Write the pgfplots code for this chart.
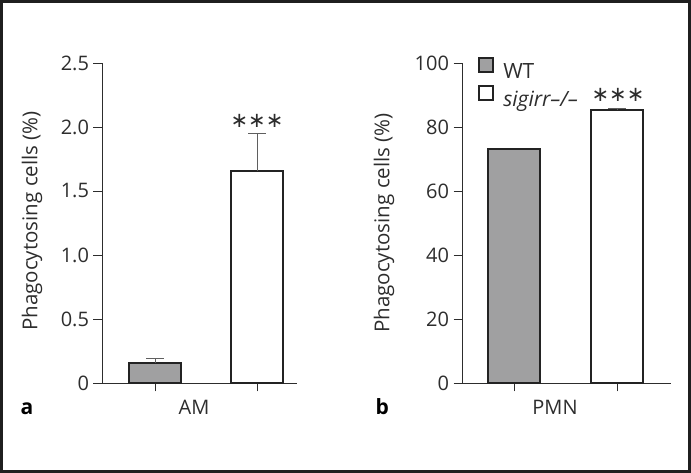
\documentclass[border=0pt]{standalone}
\usepackage{fontspec}
\setmainfont{Open Sans}
\newfontfamily\djv{DejaVu Sans}
\usepackage{pgfplots}
\pgfplotsset{compat=1.18}
\definecolor{barg}{RGB}{160,160,161}
\definecolor{edge}{RGB}{35,35,35}
\definecolor{axc}{RGB}{45,45,45}
\definecolor{errc}{RGB}{95,95,95}
\newcommand{\fs}{\fontsize{20}{23}\selectfont}
\newcommand{\fl}{\fontsize{20.5}{24}\selectfont}
\pgfplotsset{
 common/.style={
  scale only axis, height=320pt,
  axis x line=bottom, axis y line=left,
  axis line style={-, draw=axc, line width=0.9pt},
  ymin=0,
  xtick={0,1}, xticklabels={},
  tick align=outside, major tick length=8.5pt,
  tick style={axc, line width=0.9pt},
  ticklabel style={font=\fs, text=axc},
  yticklabel style={xshift=-1pt},
  /pgf/number format/assume math mode=true,
  ybar, bar shift=0pt,
  enlargelimits=false,
  clip=false,
  error bars/y dir=plus, error bars/y explicit,
  error bars/error bar style={color=errc, line width=0.9pt},
  error bars/error mark options={rotate=90, mark size=9pt, line width=0.9pt, color=errc},
 },
 wtbar/.style={draw=edge, line width=2pt, fill=barg},
 kobar/.style={draw=edge, line width=2pt, fill=white},
}
\begin{document}
\begin{tikzpicture}[x=1pt,y=1pt]
\draw[line width=3pt, color=black!88] (1.5,1.5) rectangle (689.5,471.5);
% panel a
\begin{axis}[common, at={(102pt,90pt)}, anchor=south west, width=195pt,
  xmin=-0.52, xmax=1.392, ymax=2.5,
  ytick={0,0.5,1,1.5,2,2.5}, yticklabels={0,0.5,1.0,1.5,2.0,2.5},
  bar width=0.51]
\addplot[wtbar] coordinates {(0,0.156) +- (0,0.034)};
\addplot[kobar] coordinates {(1,1.656) +- (0,0.29)};
\end{axis}
% panel b
\begin{axis}[common, at={(462pt,90pt)}, anchor=south west, width=209pt,
  xmin=-0.505, xmax=1.524, ymax=100,
  ytick={0,20,40,60,80,100},
  bar width=0.505,
  legend style={at={(0.077,1.02)}, anchor=north west, draw=none, fill=none,
    font=\fontsize{21}{24}\selectfont, row sep=5pt, inner sep=0pt, nodes={inner sep=0pt, text=axc}},
  legend cell align=left,
  legend image code/.code={\draw[#1, line width=2pt] (1pt,0pt) rectangle (15pt,14pt); \path (24pt,0pt);}]
\addplot[wtbar, error bars/y dir=none] coordinates {(0,73.1)};
\addlegendentry{WT}
\addplot[kobar] coordinates {(1,85.3) +- (0,0.6)};
\addlegendentry{\textit{sigirr–/–}}
\end{axis}
% labels
\node[rotate=90, font=\fl, text=axc] at (32,252) {Phagocytosing cells (\%)};
\node[rotate=90, font=\fl, text=axc] at (384,250) {Phagocytosing cells (\%)};
\node[anchor=base west, font=\fontsize{21}{24}\selectfont\bfseries, text=black] at (17,58) {a};
\node[anchor=base west, font=\fontsize{21}{24}\selectfont\bfseries, text=black] at (372,58) {b};
\node[anchor=base, font=\fs, text=axc] at (194,58) {AM};
\node[anchor=base, font=\fs, text=axc] at (555,58) {PMN};
\node[font=\djv\fontsize{21}{22}\selectfont, text=axc] at (257,352) {∗∗∗};
\node[font=\djv\fontsize{21}{22}\selectfont, text=axc] at (618,378) {∗∗∗};
\end{tikzpicture}
\end{document}
